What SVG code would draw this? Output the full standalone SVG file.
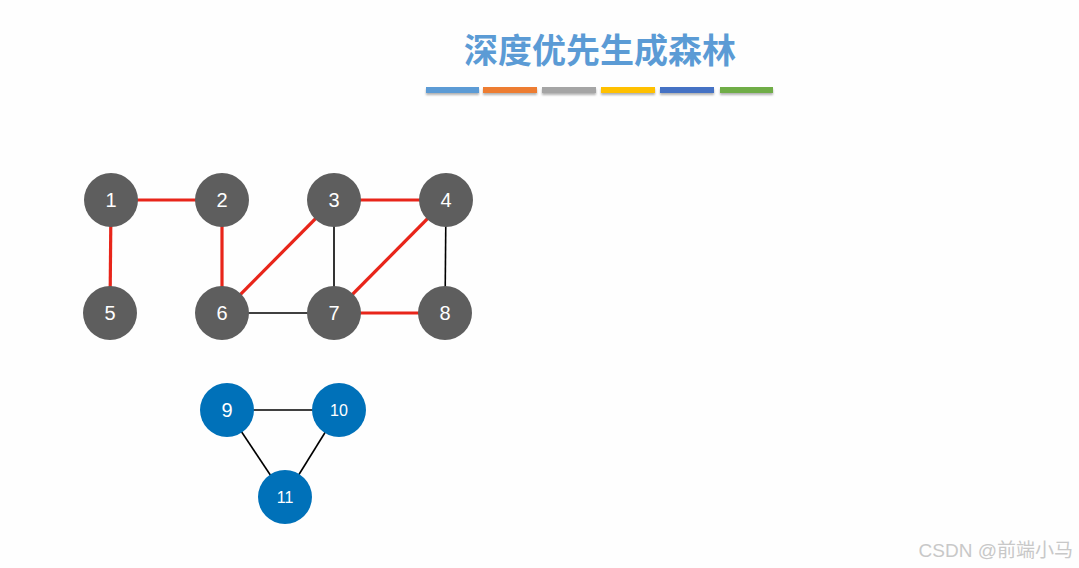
<svg xmlns="http://www.w3.org/2000/svg" width="1079" height="568" viewBox="0 0 1079 568">
<style>
.g circle{fill:#5e5e5e}
.b circle{fill:#0071b9}
.n text{fill:#fff;font-family:"Liberation Sans",Arial,sans-serif;font-size:20px;text-anchor:middle;dominant-baseline:central}
.b text{font-size:16px}
.red{stroke:#e8251a;stroke-width:3.2}
.blk{stroke:#000;stroke-width:1.6}
.bar{filter:url(#sh)}
</style>
<defs>
<filter id="sh" x="-10%" y="-50%" width="120%" height="250%">
<feDropShadow dx="0" dy="2" stdDeviation="1.2" flood-color="#000" flood-opacity="0.3"/>
</filter>
</defs>
<rect width="1079" height="568" fill="#fefefe"/>
<text x="600" y="63" font-family="'Noto Sans CJK SC',sans-serif" font-size="34" font-weight="bold" fill="#5b9bd5" text-anchor="middle">深度优先生成森林</text>
<g id="bars">
<rect class="bar" x="426" y="87" width="53" height="6" fill="#5b9bd5"/>
<rect class="bar" x="483" y="87" width="54" height="6" fill="#ed7d31"/>
<rect class="bar" x="542" y="87" width="54" height="6" fill="#a5a5a5"/>
<rect class="bar" x="601" y="87" width="54" height="6" fill="#ffc000"/>
<rect class="bar" x="660" y="87" width="54" height="6" fill="#4472c4"/>
<rect class="bar" x="720" y="87" width="53" height="6" fill="#70ad47"/>
</g>
<g id="edges">
<line class="red" x1="111" y1="200" x2="222" y2="200"/>
<line class="red" x1="111" y1="200" x2="110" y2="313"/>
<line class="red" x1="222" y1="200" x2="222" y2="313"/>
<line class="red" x1="222" y1="313" x2="334" y2="200"/>
<line class="red" x1="334" y1="200" x2="446" y2="200"/>
<line class="red" x1="446" y1="200" x2="334" y2="313"/>
<line class="red" x1="334" y1="313" x2="445" y2="313"/>
<line class="blk" x1="334" y1="200" x2="334" y2="313"/>
<line class="blk" x1="446" y1="200" x2="445" y2="313"/>
<line class="blk" x1="222" y1="313" x2="334" y2="313"/>
<line class="blk" x1="227" y1="410" x2="339" y2="410"/>
<line class="blk" x1="227" y1="410" x2="285" y2="497"/>
<line class="blk" x1="339" y1="410" x2="285" y2="497"/>
</g>
<g id="n1" class="n g"><circle cx="111" cy="200" r="27"/><text x="111" y="200">1</text></g>
<g id="n2" class="n g"><circle cx="222" cy="200" r="27"/><text x="222" y="200">2</text></g>
<g id="n3" class="n g"><circle cx="334" cy="200" r="27"/><text x="334" y="200">3</text></g>
<g id="n4" class="n g"><circle cx="446" cy="200" r="27"/><text x="446" y="200">4</text></g>
<g id="n5" class="n g"><circle cx="110" cy="313" r="27"/><text x="110" y="313">5</text></g>
<g id="n6" class="n g"><circle cx="222" cy="313" r="27"/><text x="222" y="313">6</text></g>
<g id="n7" class="n g"><circle cx="334" cy="313" r="27"/><text x="334" y="313">7</text></g>
<g id="n8" class="n g"><circle cx="445" cy="313" r="27"/><text x="445" y="313">8</text></g>
<g id="n9" class="n b"><circle cx="227" cy="410" r="27"/><text x="227" y="410" style="font-size:20px">9</text></g>
<g id="n10" class="n b"><circle cx="339" cy="410" r="27"/><text x="339" y="410">10</text></g>
<g id="n11" class="n b"><circle cx="285" cy="497" r="27"/><text x="285" y="497">11</text></g>
<text x="1073" y="557" font-family="'Liberation Sans','Noto Sans CJK SC',sans-serif" font-size="19" fill="#c8c8c8" text-anchor="end">CSDN @前端小马</text>
</svg>
